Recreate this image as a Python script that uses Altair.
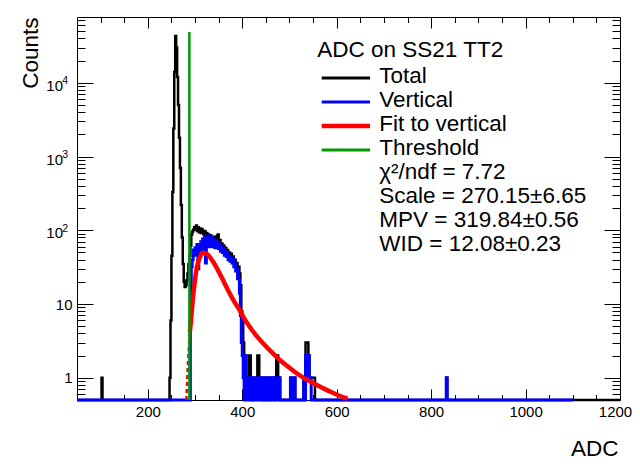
import altair as alt
import numpy as np
import pandas as pd

# ---------------- data ----------------
bin_width = 2
total_range = [50, 1200]
vertical_range = [50, 1100]

total_start = 240
total_counts = [
    0, 0, 0, 1, 6, 45, 330, 2400, 14000, 43000,          # 240-258
    30000, 12000, 5000, 1800, 700, 220, 80, 35, 20, 17,  # 260-278
    18, 21, 26, 35, 45, 62, 88, 96, 102, 110,            # 280-298
    104, 116, 98, 110, 94, 106, 92, 104, 96, 88,         # 300-318
    98, 84, 92, 80, 88, 76, 86, 74, 82, 72,              # 320-338
    82, 70, 78, 84, 88, 70, 74, 62, 66, 58,              # 340-358
    62, 52, 58, 50, 54, 46, 50, 44, 48, 42,              # 360-378
    44, 38, 40, 34, 36, 30, 32, 26, 18, 8,               # 380-398
    6, 3, 2, 2, 1, 1, 1, 2, 2, 1,                        # 400-418
    1, 0, 1, 1, 1, 1, 2, 2, 1, 1,                        # 420-438
    1, 1, 0, 1, 1, 0, 1, 1, 1, 0,                        # 440-458
    1, 1, 1, 1, 0, 1, 2, 2, 1, 1,                        # 460-478
    0, 0, 0, 0, 0, 0, 0, 0, 0, 0,                        # 480-498
    0, 1, 0, 1, 0, 1, 0, 0, 0, 0,                        # 500-518
    0, 0, 0, 0, 0, 1, 1, 3, 3, 3,                        # 520-538
    2, 1, 1, 1, 1, 1, 1, 0, 0, 0,                        # 540-558
]
total_extra_adc = [102, 832]
total_extra_counts = [1, 1]

vertical_start = 280
vertical_counts = [
    0, 0, 0, 0, 0, 10, 32, 40, 54, 46,       # 280-298
    58, 48, 64, 30, 62, 44, 70, 54, 76, 50,  # 300-318
    80, 36, 76, 66, 84, 60, 80, 64, 78, 60,  # 320-338
    74, 58, 70, 62, 68, 56, 64, 52, 60, 50,  # 340-358
    56, 46, 52, 44, 48, 40, 44, 38, 42, 36,  # 360-378
    40, 32, 35, 28, 30, 22, 22, 14, 7, 3,    # 380-398
    2, 1, 0, 2, 1, 0, 1, 1, 0, 1,            # 400-418
    1, 0, 1, 0, 1, 1, 0, 1, 0, 1,            # 420-438
    0, 1, 0, 1, 1, 0, 0, 0, 1, 0,            # 440-458
    1, 0, 1, 1, 0, 1, 0, 1, 0, 1,            # 460-478
    0, 0, 0, 0, 0, 0, 0, 0, 0, 0,            # 480-498
    0, 1, 0, 1, 0, 1, 0, 0, 0, 0,            # 500-518
    0, 0, 0, 0, 0, 1, 0, 2, 1, 2,            # 520-538
    2, 1, 1, 0, 0, 0, 0, 0, 0, 0,            # 540-558
]
vertical_extra_adc = [832]
vertical_extra_counts = [1]

fit_adc = [289, 291, 293, 296, 299, 302, 306, 310, 316, 322, 330, 340, 351.5,
           362, 372.6, 383, 393.8, 404, 414.9, 428, 443, 460, 478.3, 496,
           513.6, 531, 548.9, 566, 583.9, 603, 622.6]
fit_val = [4.2, 5.6, 8, 13, 19, 27, 36, 43, 49.5, 49, 44.5, 36, 26.5,
           19.5, 14.2, 10.8, 8.4, 6.4, 5.0, 3.85, 2.98, 2.3, 1.77, 1.43,
           1.17, 0.99, 0.855, 0.75, 0.66, 0.58, 0.52]
fit_dash_adc = [281.5, 285, 289]
fit_dash_val = [0.5, 1.6, 4.2]

threshold_adc = 288
threshold_top = 49000

legend_title = "ADC on SS21 TT2"
legend_labels = ["Total", "Vertical", "Fit to vertical", "Threshold"]
fit_stats = ["χ²/ndf = 7.72", "Scale = 270.15±6.65", "MPV = 319.84±0.56", "WID = 12.08±0.23"]

x_major = [200, 400, 600, 800, 1000, 1200]
y_plain = [1, 10]
y_power = [100, 1000, 10000]
y_major = y_plain + y_power

# ---------------- styles ----------------
c_total, c_vert, c_fit, c_thr = "#000000", "#0000ff", "#ff0000", "#009900"
legend_colors = [c_total, c_vert, c_fit, c_thr]
legend_widths = [3, 3, 4.5, 3]
FONT = "Liberation Sans"
W, H = 543, 383


def step_table(lo, hi, start, counts, extra_adc, extra_counts, name):
    edges = np.arange(lo, hi + bin_width, bin_width)
    vals = np.zeros(len(edges))
    i0 = (start - lo) // bin_width
    vals[i0:i0 + len(counts)] = counts
    for a, c in zip(extra_adc, extra_counts):
        vals[(a - lo) // bin_width] = c
    vals[-1] = vals[-2]
    return pd.DataFrame({"adc": edges, "count": vals, "series": name})


total_df = step_table(total_range[0], total_range[1], total_start, total_counts,
                      total_extra_adc, total_extra_counts, "Total")
vert_df = step_table(vertical_range[0], vertical_range[1], vertical_start, vertical_counts,
                     vertical_extra_adc, vertical_extra_counts, "Vertical")
fit_df = pd.DataFrame({"adc": fit_adc, "yv": fit_val})
fit_dash_df = pd.DataFrame({"adc": fit_dash_adc, "yv": fit_dash_val})
thr_df = pd.DataFrame({"adc": [threshold_adc], "y1": [0.5], "y2": [threshold_top]})

x_minor = [v for v in range(100, 1200, 50) if v % 200 != 0]
y_minor = [m * 10.0 ** k for k in range(-1, 5) for m in range(2, 10)
           if 0.5 < m * 10.0 ** k < 78000]

xs = alt.Scale(domain=[50, 1200], nice=False, zero=False)
ys = alt.Scale(type="log", domain=[0.5, 78000], nice=False)


def tick_axis(orient, offset, values, size):
    return alt.Axis(orient=orient, offset=offset, values=values, tickSize=size,
                    tickColor="black", tickWidth=1, labels=False, domain=False,
                    grid=False, title=None)


def label_axis(orient, values, size, pad, **kw):
    return alt.Axis(orient=orient, values=values, ticks=False, tickSize=0,
                    domain=False, grid=False, labelFontSize=size, labelPadding=pad,
                    labelFlush=False, labelOverlap=False, labelColor="black", **kw)


x_label_axis = label_axis("bottom", x_major[:-1], 15, 4, format="d",
                          title="ADC", titleX=541, titleY=55, titleAlign="right",
                          titleBaseline="alphabetic", titleFontSize=22.5,
                          titleFontWeight="normal", titleColor="black")
# last label nudged so that it stays inside the page
x_last_axis = label_axis("bottom", x_major[-1:], 15, 4, format="d", labelOffset=-5, title=None)
y_label_axis = label_axis("left", y_plain, 15, 5, format="d",
                          title="Counts", titleX=-40, titleY=0, titleAngle=270,
                          titleAlign="right", titleBaseline="alphabetic",
                          titleFontSize=22.5, titleFontWeight="normal", titleColor="black")
# "10" base of the power labels, and the raised exponent beside it
y_base_axis = label_axis("left", y_power, 15, 14.5, labelExpr="'10'", labelOffset=2.5, title=None)
y_exp_axis = label_axis("left", y_power, 10.5, 9.5,
                        labelExpr="format(log(datum.value) / LN10, '.0f')",
                        labelOffset=-2, title=None)

anchor = pd.DataFrame({"adc": [threshold_adc], "yv": [1.0]})


def axis_layer(xa, ya):
    return alt.Chart(anchor).mark_point(opacity=0, size=1).encode(
        x=alt.X("adc:Q", scale=xs, axis=xa),
        y=alt.Y("yv:Q", scale=ys, axis=ya))


def hist_layer(df, color, width):
    return alt.Chart(df).transform_calculate(yv="max(datum.count, 0.5)").mark_line(
        interpolate="step-after", color=color, strokeWidth=width, strokeJoin="miter").encode(
        x=alt.X("adc:Q", scale=xs, axis=None),
        y=alt.Y("yv:Q", scale=ys, axis=None))


total_line = hist_layer(total_df, c_total, 2.5)
vert_line = hist_layer(vert_df, c_vert, 3)
fit_dash = alt.Chart(fit_dash_df).mark_line(color=c_fit, strokeWidth=2.5, strokeDash=[4, 3]).encode(
    x=alt.X("adc:Q", scale=xs, axis=None), y=alt.Y("yv:Q", scale=ys, axis=None))
fit_line = alt.Chart(fit_df).mark_line(color=c_fit, strokeWidth=4.5, interpolate="monotone").encode(
    x=alt.X("adc:Q", scale=xs, axis=None), y=alt.Y("yv:Q", scale=ys, axis=None))
thr_rule = alt.Chart(thr_df).mark_rule(color=c_thr, strokeWidth=2.5).encode(
    x=alt.X("adc:Q", scale=xs, axis=None),
    y=alt.Y("y1:Q", scale=ys, axis=None), y2="y2:Q")

# legend (layout in pixels)
text_rows = [legend_title] + legend_labels + fit_stats
text_px = [240.3] + [302.3] * (len(text_rows) - 1)
text_py = [39.7] + [66.3 + 23.96 * i for i in range(len(text_rows) - 1)]
legend_text_df = pd.DataFrame({"text": text_rows, "px": text_px, "py": text_py})
legend_line_df = pd.DataFrame({"color": legend_colors, "w": legend_widths,
                               "py": [66.3 + 23.96 * i - 5.3 for i in range(4)]})

legend_lines = alt.Chart(legend_line_df).mark_rule().encode(
    x=alt.value(244.7), x2=alt.value(293),
    y=alt.Y("py:Q", scale=None, axis=None),
    color=alt.Color("color:N", scale=None, legend=None),
    strokeWidth=alt.StrokeWidth("w:Q", scale=None, legend=None))
legend_texts = alt.Chart(legend_text_df).mark_text(
    align="left", baseline="alphabetic", fontSize=22.5, font=FONT, color="black").encode(
    x=alt.X("px:Q", scale=None, axis=None),
    y=alt.Y("py:Q", scale=None, axis=None),
    text="text:N")

chart = alt.layer(
    axis_layer(x_label_axis, y_label_axis),
    axis_layer(x_last_axis, y_base_axis),
    axis_layer(tick_axis("bottom", 0, [], 0), y_exp_axis),
    axis_layer(tick_axis("top", -H, x_major, 11), tick_axis("right", -W, y_major, 16)),
    axis_layer(tick_axis("top", -H, x_minor, 5.5), tick_axis("right", -W, y_minor, 8)),
    axis_layer(tick_axis("bottom", -H, x_major, 11), tick_axis("left", -W, y_major, 16)),
    axis_layer(tick_axis("bottom", -H, x_minor, 5.5), tick_axis("left", -W, y_minor, 8)),
    total_line, vert_line, fit_dash, fit_line, thr_rule,
    legend_lines, legend_texts,
).resolve_axis(x="independent", y="independent").properties(
    width=W, height=H,
    autosize=alt.AutoSizeParams(type="none"),
    padding={"left": 69, "top": 9, "right": 12, "bottom": 66},
    background="white",
).configure_view(stroke="black", strokeWidth=1).configure_axis(
    labelFont=FONT, titleFont=FONT)

chart.save("out.html", embed_options={"renderer": "svg", "actions": False})
